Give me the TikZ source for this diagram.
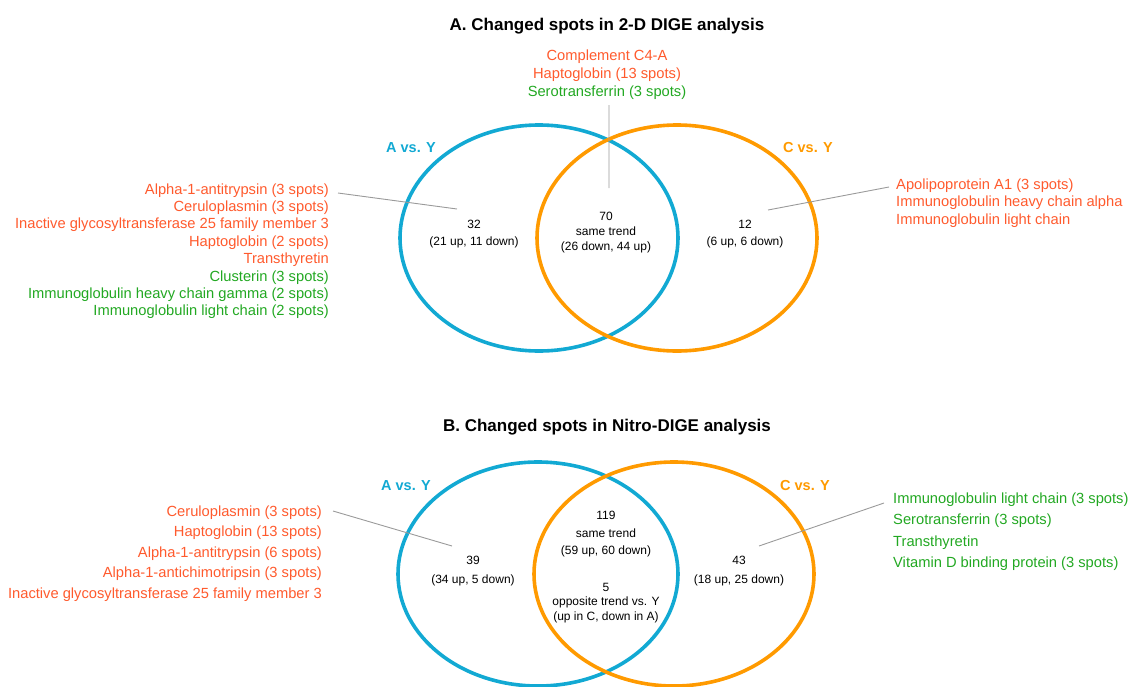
\documentclass[tikz,border=0pt]{standalone}
\usepackage{fontspec}
\setmainfont{Liberation Sans}
\definecolor{spotred}{HTML}{FF5A2D}
\definecolor{spotgreen}{HTML}{22A822}
\definecolor{vsblue}{HTML}{12A9D3}
\definecolor{vsorange}{HTML}{FF9A00}
\definecolor{leadgray}{HTML}{9A9A9A}

\begin{document}
\begin{tikzpicture}[x=1pt,y=-1pt,
  venn/.style={line width=3.6pt},
  lead/.style={leadgray,line width=0.9pt},
  head/.style={font=\bfseries\fontsize{17}{20}\selectfont,anchor=base},
  setlab/.style={font=\bfseries\fontsize{14.5}{17}\selectfont,anchor=base},
  item/.style={font=\fontsize{14.7}{17}\selectfont,inner sep=0pt},
  count/.style={font=\fontsize{12}{14}\selectfont,anchor=base,inner sep=0pt}]
\useasboundingbox (0,0) rectangle (1128,686);

% A. 2-D DIGE
\node[head] (ta) at (607,30) {A. Changed spots in 2-D DIGE analysis};
\draw[vsblue,venn] (539,238) ellipse [x radius=139pt,y radius=113pt];
\draw[vsorange,venn] (677,238) ellipse [x radius=140pt,y radius=113pt];
\node[setlab,text=vsblue] (avy) at (411,152) {A vs. Y};
\node[setlab,text=vsorange] (cvy) at (808,152) {C vs. Y};
\foreach \t/\c [count=\i] in {Complement C4-A/spotred,Haptoglobin (13 spots)/spotred,Serotransferrin (3 spots)/spotgreen}
  \node[item,text=\c,anchor=base] (mc\i) at (607,{60+18*(\i-1)}) {\t};
\foreach \t/\c [count=\i] in {Alpha-1-antitrypsin (3 spots)/spotred,Ceruloplasmin (3 spots)/spotred,
  Inactive glycosyltransferase 25 family member 3/spotred,Haptoglobin (2 spots)/spotred,
  Transthyretin/spotred,Clusterin (3 spots)/spotgreen,
  Immunoglobulin heavy chain gamma (2 spots)/spotgreen,Immunoglobulin light chain (2 spots)/spotgreen}
  \node[item,text=\c,anchor=base east] (la\i) at (329,{194+17.4*(\i-1)}) {\t};
\foreach \t/\c [count=\i] in {Apolipoprotein A1 (3 spots)/spotred,Immunoglobulin heavy chain alpha/spotred,
  Immunoglobulin light chain/spotred}
  \node[item,text=\c,anchor=base west] (ra\i) at (896,{189+17.5*(\i-1)}) {\t};
\foreach \t/\y [count=\i] in {32/228,{(21 up, 11 down)}/245}
  \node[count] (na\i) at (474,\y) {\t};
\foreach \t/\y [count=\i] in {70/220,same trend/235,{(26 down, 44 up)}/250}
  \node[count] (nm\i) at (606,\y) {\t};
\foreach \t/\y [count=\i] in {12/228,{(6 up, 6 down)}/245}
  \node[count] (nc\i) at (745,\y) {\t};
\coordinate (qm) at (609,105);
\coordinate (pm) at (609,188);
\coordinate (qa) at (338,193);
\coordinate (pa) at (457,209);
\coordinate (qc) at (889,187);
\coordinate (pc) at (768,210);
\draw[lead] (qm) -- (pm) (qa) -- (pa) (qc) -- (pc);

% B. Nitro-DIGE
\node[head] (tb) at (607,431) {B. Changed spots in Nitro-DIGE analysis};
\draw[vsblue,venn] (538,574) ellipse [x radius=140pt,y radius=112pt];
\draw[vsorange,venn] (674,574) ellipse [x radius=140pt,y radius=112pt];
\node[setlab,text=vsblue] (avy2) at (406,490) {A vs. Y};
\node[setlab,text=vsorange] (cvy2) at (805,490) {C vs. Y};
\foreach \t [count=\i] in {Ceruloplasmin (3 spots),Haptoglobin (13 spots),Alpha-1-antitrypsin (6 spots),
  Alpha-1-antichimotripsin (3 spots),Inactive glycosyltransferase 25 family member 3}
  \node[item,text=spotred,anchor=base east] (lb\i) at (322,{516+20.5*(\i-1)}) {\t};
\foreach \t [count=\i] in {Immunoglobulin light chain (3 spots),Serotransferrin (3 spots),
  Transthyretin,Vitamin D binding protein (3 spots)}
  \node[item,text=spotgreen,anchor=base west] (rb\i) at (893,{503+21.5*(\i-1)}) {\t};
\foreach \t/\y [count=\i] in {39/564,{(34 up, 5 down)}/583}
  \node[count] (nb\i) at (473,\y) {\t};
\foreach \t/\y [count=\i] in {119/519,same trend/537,{(59 up, 60 down)}/554,5/591,
  opposite trend vs. Y/605,{(up in C, down in A)}/620}
  \node[count] (nn\i) at (606,\y) {\t};
\foreach \t/\y [count=\i] in {43/564,{(18 up, 25 down)}/583}
  \node[count] (nd\i) at (739,\y) {\t};
\coordinate (qb) at (333,511);
\coordinate (pb) at (452,546);
\coordinate (qd) at (884,503);
\coordinate (pd) at (759,546);
\draw[lead] (qb) -- (pb) (qd) -- (pd);
\end{tikzpicture}
\end{document}
